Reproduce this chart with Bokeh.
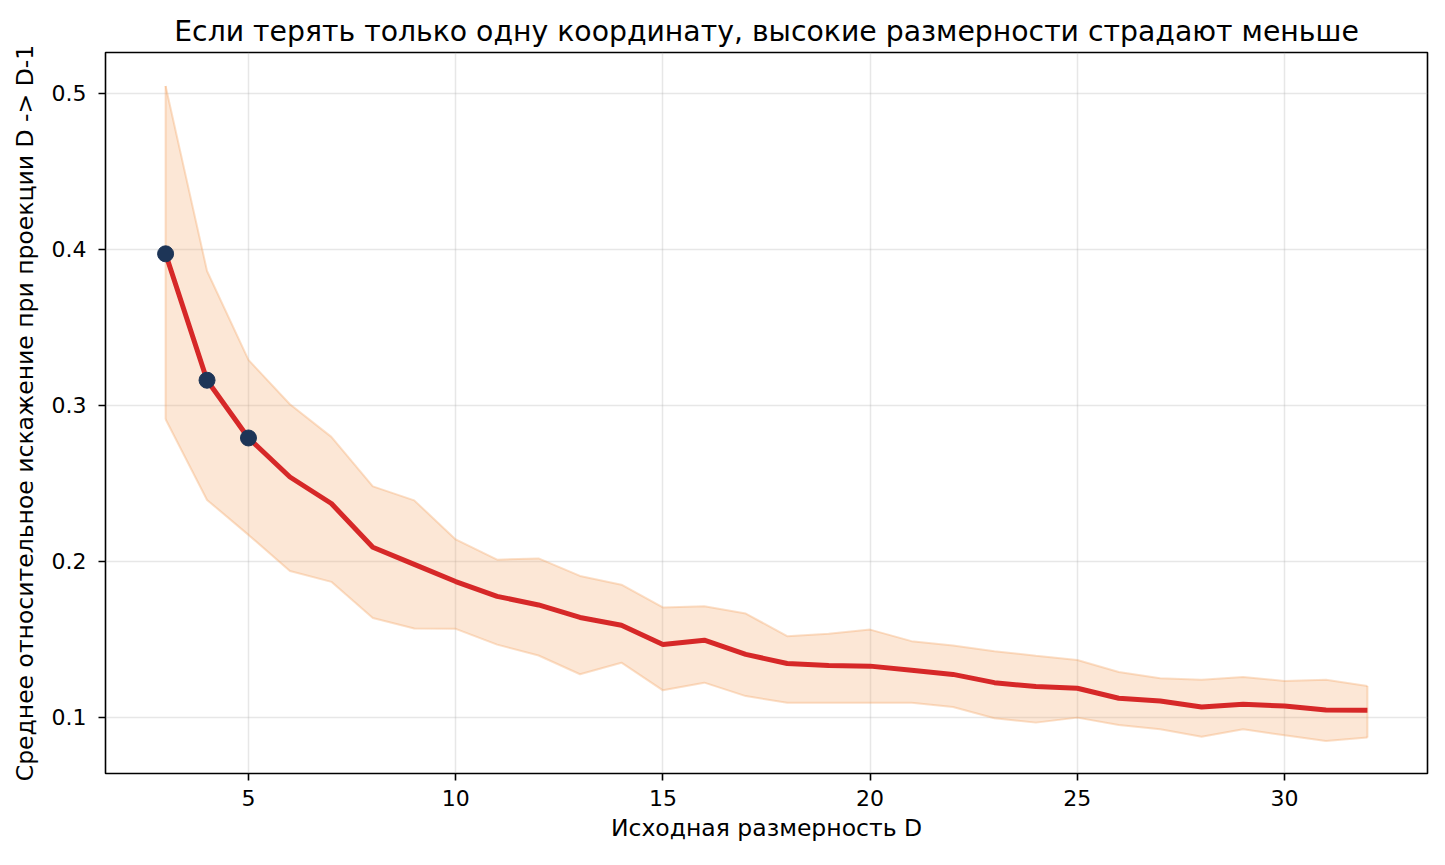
from bokeh.plotting import figure
from bokeh.models import FixedTicker, Range1d
from bokeh.embed import file_html
from bokeh.resources import INLINE

# source dimension D
dims = list(range(3, 33))

# mean relative distortion for D -> D-1 projection
mean_dist = [0.397, 0.316, 0.279, 0.254, 0.237, 0.209, 0.198, 0.187, 0.1775, 0.172,
             0.164, 0.159, 0.1467, 0.1494, 0.1403, 0.1345, 0.1332, 0.1328, 0.1302, 0.1275,
             0.1222, 0.1197, 0.1186, 0.1122, 0.1105, 0.1066, 0.1083, 0.1073, 0.1047, 0.1045]

# spread band
upper = [0.5045, 0.386, 0.329, 0.3006, 0.2797, 0.248, 0.239, 0.214, 0.201, 0.2018,
         0.1906, 0.185, 0.1704, 0.1712, 0.1665, 0.152, 0.1535, 0.1562, 0.1488, 0.146,
         0.1424, 0.1394, 0.1367, 0.129, 0.125, 0.124, 0.1259, 0.1233, 0.124, 0.1201]
lower = [0.291, 0.2393, 0.2169, 0.1938, 0.1868, 0.1637, 0.1569, 0.1567, 0.1466, 0.1396,
         0.1276, 0.135, 0.1173, 0.1222, 0.1136, 0.1094, 0.1094, 0.1094, 0.1094, 0.1066,
         0.0994, 0.0966, 0.0998, 0.0951, 0.0923, 0.0876, 0.0923, 0.0885, 0.0848, 0.087]

# highlighted low dimensions
hl_dims = dims[:3]
hl_vals = mean_dist[:3]

FONT = "DejaVu Sans"

p = figure(width=1437, height=857, output_backend="svg", toolbar_location=None,
           x_range=Range1d(1.55, 33.45), y_range=Range1d(0.064, 0.526),
           title="Если терять только одну координату, высокие размерности страдают меньше")
p.min_border_left = 105
p.min_border_right = 10
p.min_border_top = 52
p.min_border_bottom = 84

p.title.text_font = FONT
p.title.text_font_size = "28.3px"
p.title.text_font_style = "normal"
p.title.text_color = "black"
p.title.align = "center"
p.title.standoff = 9

p.outline_line_color = "black"
p.outline_line_width = 1.6
p.outline_line_alpha = 1.0

p.xgrid.grid_line_color = "#b0b0b0"
p.ygrid.grid_line_color = "#b0b0b0"
p.xgrid.grid_line_alpha = 0.3
p.ygrid.grid_line_alpha = 0.3
p.xgrid.grid_line_width = 1.5
p.ygrid.grid_line_width = 1.5

p.xaxis.ticker = FixedTicker(ticks=[5, 10, 15, 20, 25, 30])
p.yaxis.ticker = FixedTicker(ticks=[0.1, 0.2, 0.3, 0.4, 0.5])
p.xaxis.axis_label = "Исходная размерность D"
p.yaxis.axis_label = "Среднее относительное искажение при проекции D -> D-1"
for ax in (p.xaxis, p.yaxis):
    ax.axis_line_color = None
    ax.major_tick_line_color = "black"
    ax.major_tick_line_width = 1.6
    ax.major_tick_out = 7
    ax.major_tick_in = 0
    ax.minor_tick_line_color = None
    ax.major_label_text_font = FONT
    ax.major_label_text_font_size = "22px"
    ax.major_label_text_color = "black"
    ax.axis_label_text_font = FONT
    ax.axis_label_text_font_size = "23.5px"
    ax.axis_label_text_font_style = "normal"
    ax.axis_label_text_color = "black"
p.xaxis.major_label_standoff = 9
p.yaxis.major_label_standoff = 12
p.xaxis.axis_label_standoff = 5
p.yaxis.axis_label_standoff = 10

# band
p.varea(x=dims, y1=lower, y2=upper, fill_color="#f4a261", fill_alpha=0.26)
p.line(dims, upper, line_color="#f4a261", line_alpha=0.35, line_width=2)
p.line(dims, lower, line_color="#f4a261", line_alpha=0.35, line_width=2)
p.line([dims[0], dims[0]], [lower[0], upper[0]], line_color="#f4a261", line_alpha=0.35, line_width=2)
p.line([dims[-1], dims[-1]], [lower[-1], upper[-1]], line_color="#f4a261", line_alpha=0.35, line_width=2)

# mean line
p.line(dims, mean_dist, line_color="#d62828", line_width=5)
p.scatter(hl_dims, hl_vals, size=16, fill_color="#1d3557", line_color="#1d3557")

open("out.html", "w").write(file_html(p, INLINE))
